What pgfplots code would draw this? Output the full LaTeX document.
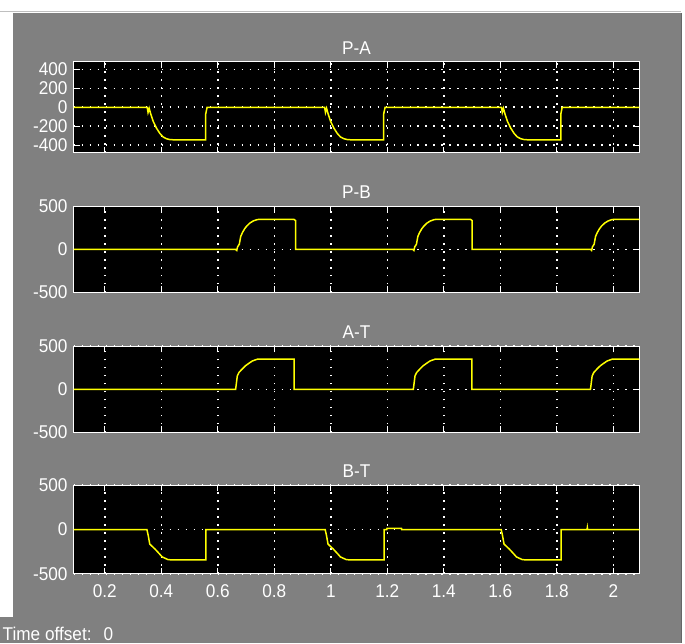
\documentclass[border=0pt]{standalone}
\usepackage{fontspec}
\setmainfont{Liberation Sans}[FakeStretch=0.93]
\usepackage{pgfplots}
\pgfplotsset{compat=1.18}
\definecolor{scopegray}{RGB}{128,128,128}
\definecolor{scopeyellow}{RGB}{255,255,0}
\newcommand{\lfont}{\fontsize{18.5}{20}\selectfont}
\pgfplotsset{scopeax/.style={
  scale only axis, width=566pt, xmin=0.09, xmax=2.092,
  axis background/.style={fill=black},
  axis line style={white, line width=1pt},
  xtick={0.2,0.4,0.6,0.8,1,1.2,1.4,1.6,1.8,2},
  xticklabels={},
  tick align=inside, major tick length=6pt,
  tick style={white, line width=1pt},
  grid=major,
  major grid style={white, line width=1.6pt, dash pattern=on 1.6pt off 6.4pt},
  tick label style={text=white, font=\lfont, inner sep=0pt},
  yticklabel style={xshift=-6pt},
  xticklabel style={yshift=-10.5pt},
  title style={text=white, font=\lfont, at={(0.5,1)}, anchor=south, yshift=1.5pt, inner sep=0pt},
  /pgf/number format/assume math mode=true,
  no marks,
  every axis plot post/.append style={scopeyellow, line width=1.5pt, mark=none},
  anchor=south west,
}}
\begin{document}
\begin{tikzpicture}[x=1pt,y=1pt]
\fill[white] (0,0) rectangle (685,643);
\fill[scopegray] (13,0) rectangle (681,630);
\fill[scopegray] (0,0) rectangle (288,26);
\draw[black!25, line width=1pt] (0,631.5) -- (681,631.5);
\draw[black!60, line width=1pt] (681.5,0) -- (681.5,630);

\begin{axis}[scopeax, at={(73.3pt,490.3pt)}, height=90.7pt,
  ymin=-480, ymax=480, ytick={-400,-200,0,200,400}, yticklabels={-400,-200,0,200,400}, title={P-A}]
\addplot coordinates {(0.09,0)(0.350,0)(0.353,-55)(0.357,-11)(0.362,-66)(0.371,-148)(0.383,-222)(0.395,-278)(0.406,-314)(0.418,-333)(0.430,-342)(0.445,-345)(0.557,-345)(0.557,-73)(0.562,0)
(0.978,0)(0.981,-55)(0.985,-11)(0.990,-66)(0.999,-148)(1.011,-222)(1.023,-278)(1.034,-314)(1.046,-333)(1.058,-342)(1.073,-345)(1.187,-345)(1.187,-73)(1.192,0)
(1.604,0)(1.607,-55)(1.611,-11)(1.616,-66)(1.625,-148)(1.637,-222)(1.649,-278)(1.660,-314)(1.672,-333)(1.684,-342)(1.699,-345)(1.814,-345)(1.814,-73)(1.819,0)(2.092,0)};
\end{axis}

\begin{axis}[scopeax, at={(73.3pt,350.3pt)}, height=86.2pt,
  ymin=-500, ymax=500, ytick={-500,0,500}, yticklabels={-500,0,500}, title={P-B}]
\addplot coordinates {(0.09,0)(0.663,0)(0.667,-12)(0.670,30)(0.676,60)(0.681,150)(0.687,195)(0.695,240)(0.702,270)(0.713,305)(0.725,330)(0.738,345)(0.748,350)(0.869,350)(0.875,335)(0.875,0)
(1.290,0)(1.294,-12)(1.297,30)(1.303,60)(1.308,150)(1.314,195)(1.322,240)(1.329,270)(1.340,305)(1.352,330)(1.365,345)(1.375,350)(1.494,350)(1.500,335)(1.500,0)
(1.919,0)(1.923,-12)(1.926,30)(1.932,60)(1.937,150)(1.943,195)(1.951,240)(1.958,270)(1.969,305)(1.981,330)(1.994,345)(2.004,350)(2.092,350)};
\end{axis}

\begin{axis}[scopeax, at={(73.3pt,210.3pt)}, height=86.2pt,
  ymin=-500, ymax=500, ytick={-500,0,500}, yticklabels={-500,0,500}, title={A-T}]
\addplot coordinates {(0.09,0)(0.663,0)(0.666,78)(0.669,156)(0.675,196)(0.686,235)(0.698,274)(0.710,302)(0.722,329)(0.740,350)(0.870,350)(0.870,0)
(1.292,0)(1.295,78)(1.298,156)(1.304,196)(1.315,235)(1.327,274)(1.339,302)(1.351,329)(1.369,350)(1.499,350)(1.499,0)
(1.919,0)(1.922,78)(1.925,156)(1.931,196)(1.942,235)(1.954,274)(1.966,302)(1.978,329)(1.996,350)(2.092,350)};
\end{axis}

\begin{axis}[scopeax, at={(73.3pt,68.7pt)}, height=88.8pt,
  ymin=-500, ymax=500, ytick={-500,0,500}, yticklabels={-500,0,500}, title={B-T},
  xticklabels={0.2,0.4,0.6,0.8,1,1.2,1.4,1.6,1.8,2}]
\addplot coordinates {(0.09,0)(0.349,0)(0.354,-73)(0.359,-164)(0.377,-218)(0.393,-273)(0.403,-309)(0.423,-338)(0.434,-342)(0.558,-342)(0.558,0)
(0.980,0)(0.985,-73)(0.990,-164)(1.008,-218)(1.024,-273)(1.034,-309)(1.054,-338)(1.065,-342)(1.189,-342)(1.189,0)(1.198,0)(1.199,14)(1.250,14)(1.251,0)
(1.603,0)(1.608,-73)(1.613,-164)(1.631,-218)(1.647,-273)(1.657,-309)(1.677,-338)(1.688,-342)(1.815,-342)(1.815,0)(1.907,0)(1.908,22)(1.909,0)(2.092,0)};
\end{axis}

\node[anchor=base west, text=white, font=\lfont, inner sep=0pt] at (2,2) {Time offset:\hspace{12pt}0};
\end{tikzpicture}
\end{document}
